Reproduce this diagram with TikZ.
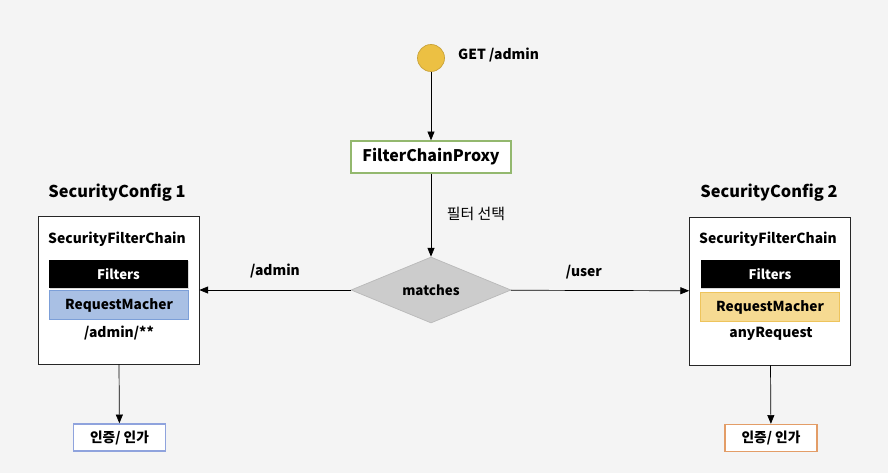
\documentclass[tikz,border=0pt]{standalone}
\usepackage{fontspec}
\setmainfont{Noto Sans CJK KR}
\usepackage{tikz}
\usetikzlibrary{arrows.meta, shapes.geometric, shadows}
\definecolor{fundoCinza}{RGB}{244,244,244}
\definecolor{amareloPonto}{RGB}{236,192,67}
\definecolor{verdeProxy}{RGB}{147,184,110}
\definecolor{azulMatcher}{RGB}{169,192,228}
\definecolor{azulBorda}{RGB}{124,159,216}
\definecolor{amareloMatcher}{RGB}{246,218,146}
\definecolor{amareloBorda}{RGB}{238,196,92}
\definecolor{azulAuth}{RGB}{143,163,221}
\definecolor{laranjaAuth}{RGB}{227,157,103}

\begin{document}
\begin{tikzpicture}[x=0.02cm, y=-0.02cm,
    chainbox/.style={draw=black!85, fill=white, minimum width=3.22cm, minimum height=2.96cm},
    filterbar/.style={fill=black, text=white, minimum width=2.78cm, minimum height=0.56cm, font=\bfseries\fontsize{7.5}{9}\selectfont, drop shadow={opacity=0.3, shadow xshift=0.4pt, shadow yshift=-0.8pt}},
    matcherbox/.style={draw, thin, minimum width=2.78cm, minimum height=0.58cm, font=\bfseries\fontsize{7.8}{9}\selectfont},
    authbox/.style={draw, thick, fill=white, minimum width=1.84cm, minimum height=0.54cm, font=\bfseries\fontsize{7.8}{9}\selectfont},
    plain/.style={font=\bfseries\fontsize{7.9}{9}\selectfont},
    arrow/.style={-{Triangle[length=5pt, width=4pt]}, draw=black}
]
    \useasboundingbox[fill=fundoCinza] (0,0) rectangle (888,473);

    % pedido e proxy
    \node[circle, draw=amareloPonto!85!black, fill=amareloPonto, minimum size=0.54cm, inner sep=0] (req) at (431, 58) {};
    \node[plain, anchor=west] (reqlabel) at (452, 55) {GET /admin};
    \node[draw=verdeProxy, fill=white, thick, minimum width=3.2cm, minimum height=0.64cm, font=\bfseries\fontsize{9.1}{11}\selectfont] (proxy) at (431, 157) {FilterChainProxy};
    \node[diamond, aspect=2.4, draw=gray!55, fill=gray!40, minimum width=3.2cm, minimum height=1.32cm, inner sep=0, font=\bfseries\fontsize{7.6}{9}\selectfont] (match) at (431, 290) {matches};
    \node[font=\fontsize{8.5}{10}\selectfont] (select) at (476, 214) {필터 선택};

    % SecurityConfig 1
    \node[font=\bfseries\fontsize{9.3}{11}\selectfont] (title1) at (117, 193) {SecurityConfig 1};
    \node[chainbox] (chain1) at (118.5, 290) {};
    \node[plain] (sfc1) at (117, 239) {SecurityFilterChain};
    \node[filterbar] (filters1) at (118.5, 274) {Filters};
    \node[matcherbox, draw=azulBorda, fill=azulMatcher] (matcher1) at (119, 305) {RequestMacher};
    \node[plain] (pattern1) at (119, 333) {/admin/**};
    \node[authbox, draw=azulAuth] (auth1) at (119.5, 437.5) {인증/ 인가};

    % SecurityConfig 2
    \node[font=\bfseries\fontsize{9.3}{11}\selectfont] (title2) at (769, 193) {SecurityConfig 2};
    \node[chainbox] (chain2) at (770, 291) {};
    \node[plain] (sfc2) at (768, 239) {SecurityFilterChain};
    \node[filterbar] (filters2) at (770, 274) {Filters};
    \node[matcherbox, draw=amareloBorda, fill=amareloMatcher] (matcher2) at (770, 307) {RequestMacher};
    \node[plain] (pattern2) at (771, 334) {anyRequest};
    \node[authbox, draw=laranjaAuth] (auth2) at (771, 438) {인증/ 인가};

    \draw[arrow] (req) -- (proxy);
    \draw[arrow] (proxy) -- (match);
    \draw[arrow] (match) -- node[plain, above=3pt] {/admin} (chain1);
    \draw[arrow] (match) -- node[plain, above=3pt, pos=0.41] {/user} (chain2);
    \draw[arrow] (chain1) -- (auth1);
    \draw[arrow] (chain2) -- (auth2);
\end{tikzpicture}
\end{document}
